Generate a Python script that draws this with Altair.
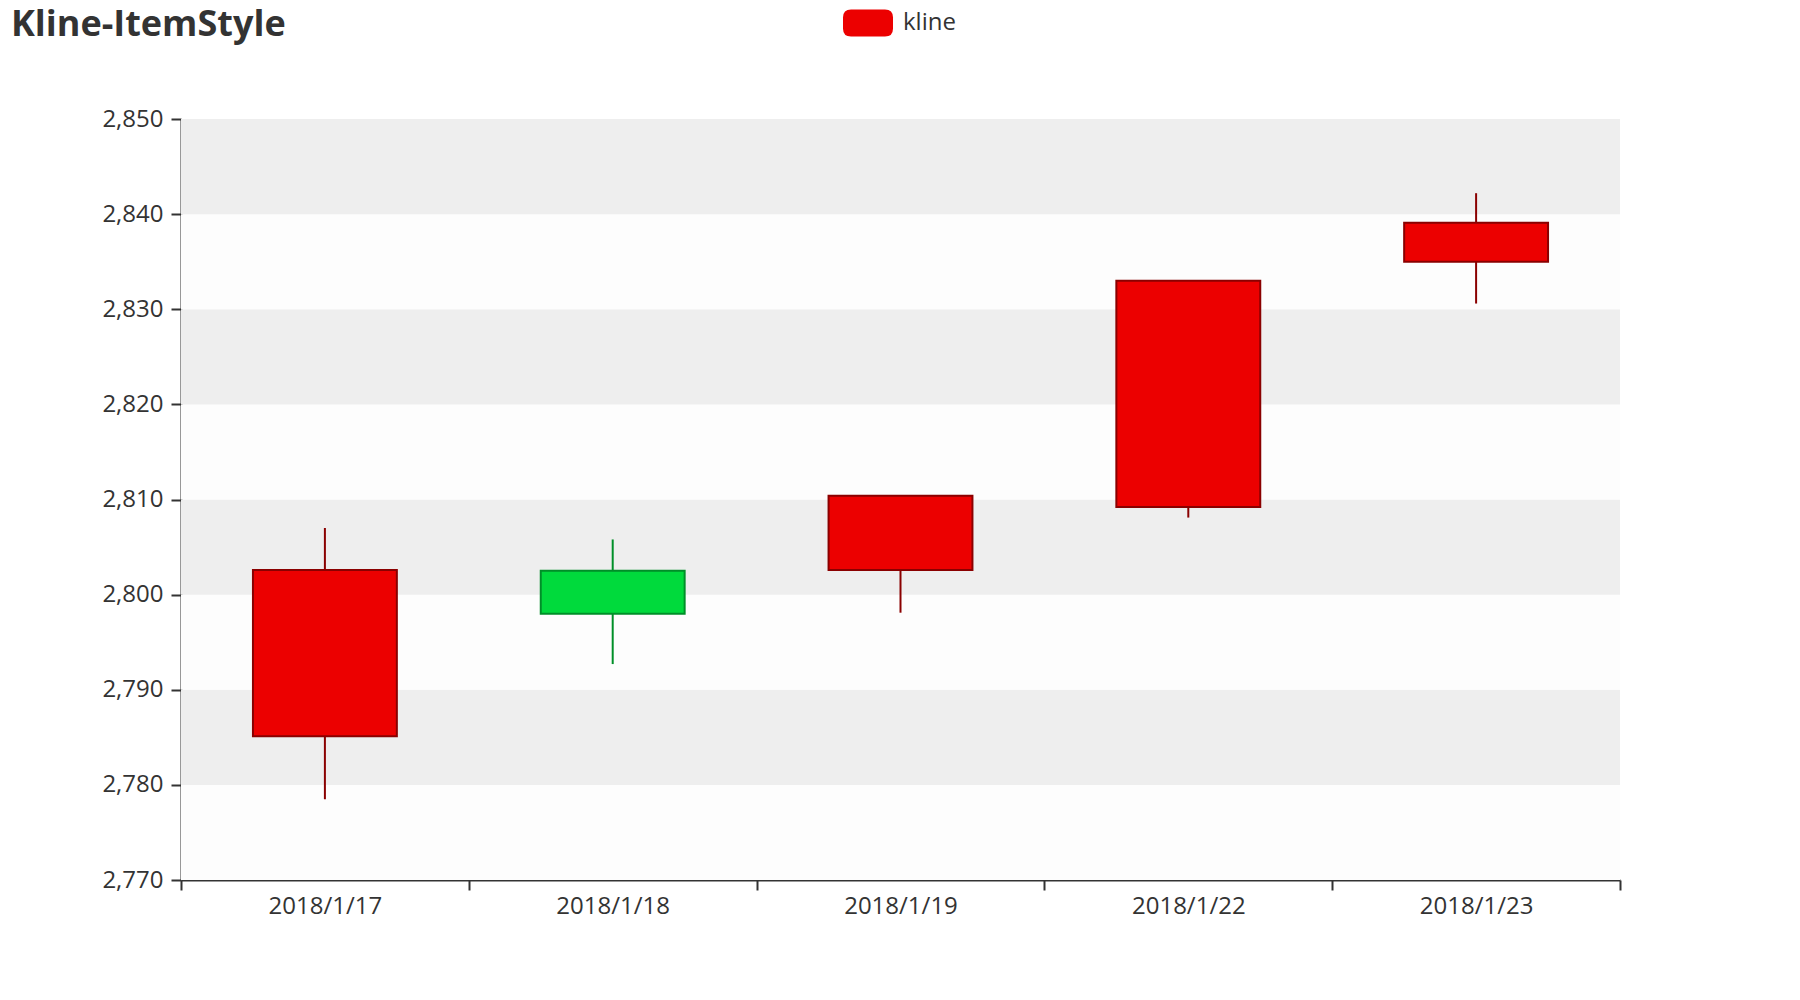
import altair as alt
import pandas as pd

dates = ["2018/1/17", "2018/1/18", "2018/1/19", "2018/1/22", "2018/1/23"]
opens = [2785.1, 2802.5, 2802.6, 2809.2, 2835.0]
closes = [2802.6, 2798.0, 2810.4, 2833.0, 2839.1]
lows = [2778.5, 2792.7, 2798.1, 2808.1, 2830.6]
highs = [2807.0, 2805.8, 2810.4, 2833.0, 2842.2]
band_lo = [2770, 2780, 2790, 2800, 2810, 2820, 2830, 2840]
series = ["kline"]

W, H = 1439, 761
Y_MIN, Y_MAX = 2770, 2850

df = pd.DataFrame({"date": dates, "open": opens, "close": closes, "low": lows, "high": highs})
bands = pd.DataFrame({"lo": band_lo})
bands["hi"] = bands["lo"] + 10
leg = pd.DataFrame({"series": series, "date": [dates[0]], "v": [closes[0]]})

yscale = alt.Scale(domain=[Y_MIN, Y_MAX], nice=False, zero=False)
xscale = alt.Scale(paddingInner=0, paddingOuter=0)
up = "datum.close >= datum.open"

bg = alt.Chart(bands).mark_rect().encode(
    y=alt.Y("lo:Q", scale=yscale, title=None,
            axis=alt.Axis(values=list(range(2770, 2851, 10)), format=",", grid=False,
                          domainColor="#333", domainWidth=2, tickColor="#333", tickWidth=2,
                          tickSize=10, labelPadding=8, labelFontSize=24, labelColor="#333",
                          labelFont="Open Sans")),
    y2="hi:Q",
    x=alt.value(0),
    x2=alt.value(W),
    fill=alt.condition("(datum.lo - 2770) % 20 == 10", alt.value("#eeeeee"), alt.value("#fdfdfd")),
)

xaxis = alt.Axis(labelAngle=0, tickBand="extent", grid=False, domainColor="#333", domainWidth=2,
                 tickColor="#333", tickWidth=2, tickSize=10, labelPadding=4, labelFontSize=24,
                 labelColor="#333", labelFont="Open Sans")

wick = alt.Chart(df).mark_rule(strokeWidth=2).encode(
    x=alt.X("date:N", sort=None, scale=xscale, axis=xaxis, title=None),
    y=alt.Y("low:Q", scale=yscale),
    y2="high:Q",
    color=alt.condition(up, alt.value("#8A0000"), alt.value("#008F28")),
)

body = alt.Chart(df).mark_bar(width=alt.RelativeBandSize(0.5), strokeWidth=2).encode(
    x=alt.X("date:N", sort=None, scale=xscale),
    y=alt.Y("open:Q", scale=yscale),
    y2="close:Q",
    fill=alt.condition(up, alt.value("#ec0000"), alt.value("#00da3c")),
    stroke=alt.condition(up, alt.value("#8A0000"), alt.value("#008F28")),
)

rrect = ("M-0.68,-0.54 L0.68,-0.54 Q1,-0.54 1,-0.22 L1,0.22 Q1,0.54 0.68,0.54 "
         "L-0.68,0.54 Q-1,0.54 -1,0.22 L-1,-0.22 Q-1,-0.54 -0.68,-0.54 Z")

legend_layer = alt.Chart(leg).mark_point(filled=True, opacity=0).encode(
    x=alt.X("date:N", sort=None, scale=xscale),
    y=alt.Y("v:Q", scale=yscale),
    color=alt.Color("series:N", scale=alt.Scale(domain=series, range=["#ec0000"]),
                    legend=alt.Legend(title=None, orient="none", legendX=662, legendY=-121,
                                      symbolType=rrect, symbolSize=2500, symbolOpacity=1,
                                      symbolStrokeWidth=0, labelFontSize=24, labelColor="#333",
                                      labelFont="Open Sans", labelOffset=10, padding=0)),
)

chart = alt.layer(bg, wick, body, legend_layer).properties(
    width=W, height=H,
    background="white",
    title=alt.TitleParams("Kline-ItemStyle", anchor="start", fontSize=36, fontWeight="bold",
                          font="Open Sans", color="#333", dx=-91, offset=0, dy=74,
                          baseline="alphabetic"),
    autosize=alt.AutoSizeParams(type="none"),
    padding={"left": 181, "top": 119, "right": 180, "bottom": 120},
).configure_view(strokeWidth=0, stroke="transparent")

chart.save("out.html", embed_options={"renderer": "svg", "actions": False})
